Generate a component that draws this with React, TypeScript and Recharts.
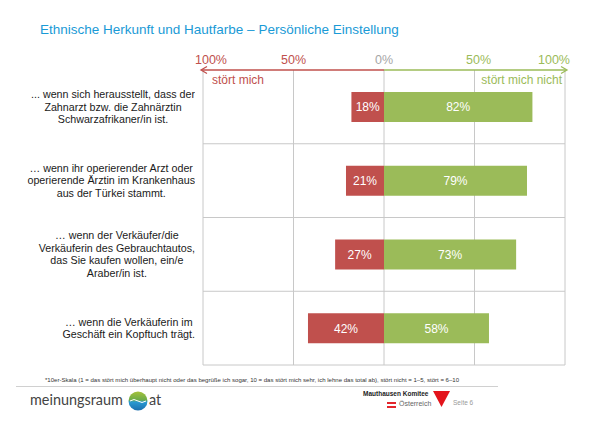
import React from 'react';
import { BarChart, Bar, XAxis, YAxis, CartesianGrid, ReferenceArea, LabelList } from 'recharts';

const categories = [
  '... wenn sich herausstellt, dass der\nZahnarzt bzw. die Zahnärztin\nSchwarzafrikaner/in ist.',
  '… wenn ihr operierender Arzt oder\noperierende Ärztin im Krankenhaus\naus der Türkei stammt.',
  '… wenn der Verkäufer/die\nVerkäuferin des Gebrauchtautos,\ndas Sie kaufen wollen, ein/e\nAraber/in ist.',
  '… wenn die Verkäuferin im\nGeschäft ein Kopftuch trägt.',
];
const stoertMich = [18, 21, 27, 42];
const stoertNicht = [82, 79, 73, 58];
const axisTicks = [-100, -50, 0, 50, 100];

const data = categories.map((label, i) => ({
  label,
  stoert: -stoertMich[i],
  nicht: stoertNicht[i],
}));

const RED = '#c0504d';
const GREEN = '#9bbb59';
const GRID = '#c8c8c8';
const FONT = 'Arial, "Liberation Sans", Helvetica, sans-serif';

const TopTick = ({ x, y, payload }: any) => {
  const v = payload.value;
  const fill = v < 0 ? RED : v > 0 ? GREEN : '#a6a6a6';
  const dx = v === -100 ? 8 : v === 100 ? -11 : v === 50 ? 4 : 0;
  return (
    <text x={x + dx} y={y - 6} textAnchor="middle" fill={fill} fontSize={12.5} fontFamily={FONT}>
      {Math.abs(v)}%
    </text>
  );
};

const LeftTick = ({ y, payload }: any) => (
  <foreignObject x={0} y={y - 36} width={195} height={72}>
    <div
      style={{
        width: 195,
        height: 72,
        display: 'flex',
        alignItems: 'center',
        justifyContent: 'flex-end',
      }}
    >
      <div
        style={{
          textAlign: 'center',
          whiteSpace: 'pre',
          fontFamily: FONT,
          fontSize: 10.7,
          lineHeight: '12.5px',
          color: '#1a1a1a',
        }}
      >
        {payload.value}
      </div>
    </div>
  </foreignObject>
);

const LeftArrow = ({ x, y, width }: any) => (
  <g>
    <line x1={x + width} y1={y} x2={x - 1} y2={y} stroke={RED} strokeWidth={1.5} />
    <path d={`M${x + 4},${y - 3.5} L${x - 2},${y} L${x + 4},${y + 3.5}`} fill="none" stroke={RED} strokeWidth={1.3} />
    <text x={x + 9} y={y + 14} fill={RED} fontSize={12} fontFamily={FONT}>
      stört mich
    </text>
  </g>
);

const RightArrow = ({ x, y, width }: any) => (
  <g>
    <line x1={x} y1={y} x2={x + width + 1} y2={y} stroke={GREEN} strokeWidth={1.5} />
    <path
      d={`M${x + width - 4},${y - 3.5} L${x + width + 2},${y} L${x + width - 4},${y + 3.5}`}
      fill="none"
      stroke={GREEN}
      strokeWidth={1.3}
    />
    <text x={x + width - 3} y={y + 14} fill={GREEN} fontSize={12} fontFamily={FONT} textAnchor="end">
      stört mich nicht
    </text>
  </g>
);

const rowLines = ({ offset }: any) => [1, 2, 3, 4].map((i) => offset.top + (offset.height * i) / 4);

const pct = (v: any) => `${Math.abs(Number(v))}%`;

export default function App() {
  return (
    <div style={{ position: 'absolute', left: 0, top: 0, width: 600, height: 425, background: '#fff', fontFamily: FONT }}>
      <div style={{ position: 'absolute', left: 40, top: 22, fontSize: 13.5, color: '#1a9ad6', whiteSpace: 'nowrap' }}>
        Ethnische Herkunft und Hautfarbe – Persönliche Einstellung
      </div>

      <BarChart
        width={600}
        height={425}
        data={data}
        layout="vertical"
        stackOffset="sign"
        margin={{ top: 50, right: 35, bottom: 60, left: 0 }}
      >
        <CartesianGrid stroke={GRID} horizontalCoordinatesGenerator={rowLines} />
        <XAxis
          type="number"
          orientation="top"
          domain={[-100, 100]}
          ticks={axisTicks}
          height={20}
          tickSize={0}
          tickMargin={0}
          axisLine={false}
          tickLine={false}
          tick={<TopTick />}
        />
        <YAxis type="category" dataKey="label" width={203} axisLine={false} tickLine={false} tick={<LeftTick />} />
        <ReferenceArea x1={-100} x2={0} shape={<LeftArrow />} />
        <ReferenceArea x1={0} x2={100} shape={<RightArrow />} />
        <Bar dataKey="stoert" stackId="a" fill={RED} barSize={30} isAnimationActive={false}>
          <LabelList dataKey="stoert" position="center" formatter={pct} fill="#fff" fontSize={12} fontFamily={FONT} />
        </Bar>
        <Bar dataKey="nicht" stackId="a" fill={GREEN} barSize={30} isAnimationActive={false}>
          <LabelList dataKey="nicht" position="center" formatter={pct} fill="#fff" fontSize={12} fontFamily={FONT} />
        </Bar>
      </BarChart>

      <div
        style={{
          position: 'absolute',
          left: 0,
          width: 504,
          top: 377,
          textAlign: 'center',
          fontSize: 6.05,
          color: '#333',
          whiteSpace: 'nowrap',
        }}
      >
        *10er-Skala (1 = das stört mich überhaupt nicht oder das begrüße ich sogar, 10 = das stört mich sehr, ich lehne das total ab), stört nicht = 1–5, stört = 6–10
      </div>
      <div style={{ position: 'absolute', left: 16, top: 386, width: 482, height: 1, background: '#d0d0d0' }} />

      <div style={{ position: 'absolute', left: 30, top: 391, fontFamily: 'Lato, sans-serif', fontSize: 14.4, color: '#444' }}>
        meinungsraum
      </div>
      <svg style={{ position: 'absolute', left: 128, top: 391 }} width={20} height={20}>
        <defs>
          <linearGradient id="globe" x1="0" y1="0" x2="0" y2="1">
            <stop offset="0" stopColor="#a6c23a" />
            <stop offset="0.45" stopColor="#6bab4a" />
            <stop offset="0.55" stopColor="#2a9ad2" />
            <stop offset="1" stopColor="#1b6fae" />
          </linearGradient>
        </defs>
        <circle cx={10} cy={10} r={9.5} fill="url(#globe)" />
        <path d="M2,10 Q6,7 10,10 T18,10" fill="none" stroke="#fff" strokeWidth={1} />
      </svg>
      <div style={{ position: 'absolute', left: 149, top: 391, fontFamily: 'Lato, sans-serif', fontSize: 14.4, color: '#444' }}>at</div>

      <div style={{ position: 'absolute', left: 363, top: 390, fontSize: 6.5, fontWeight: 'bold', color: '#222', whiteSpace: 'nowrap' }}>
        Mauthausen Komitee
      </div>
      <svg style={{ position: 'absolute', left: 387, top: 402 }} width={9} height={6}>
        <rect x={0} y={0} width={9} height={2} fill="#e3262c" />
        <rect x={0} y={4} width={9} height={2} fill="#e3262c" />
      </svg>
      <div style={{ position: 'absolute', left: 399, top: 400, fontSize: 7, color: '#666', whiteSpace: 'nowrap' }}>Österreich</div>
      <svg style={{ position: 'absolute', left: 433, top: 391 }} width={17} height={16}>
        <polygon points="0,0 17,0 8.5,16" fill="#e3141b" />
      </svg>
      <div style={{ position: 'absolute', left: 453, top: 399, fontSize: 6.5, color: '#999', whiteSpace: 'nowrap' }}>Seite 6</div>
    </div>
  );
}
